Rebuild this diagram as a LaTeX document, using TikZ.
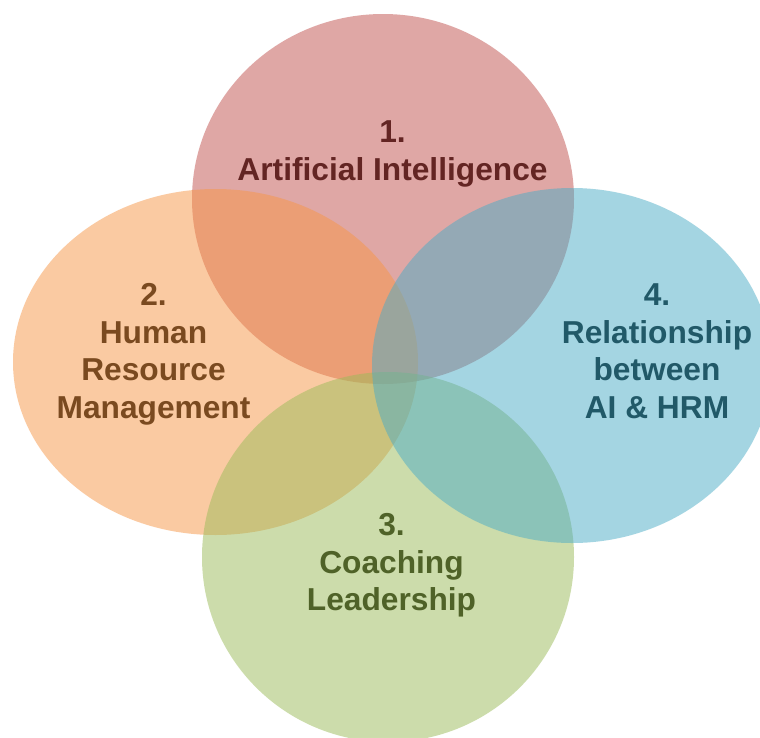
\documentclass[tikz,border=0pt]{standalone}
\usepackage{fontspec}
\setmainfont{Liberation Sans}
\definecolor{cRed}{HTML}{C0504D}
\definecolor{cOrange}{HTML}{F79646}
\definecolor{cGreen}{HTML}{9BBB59}
\definecolor{cBlue}{HTML}{4BACC6}
\definecolor{tRed}{HTML}{632523}
\definecolor{tOrange}{HTML}{7A4A20}
\definecolor{tGreen}{HTML}{4F6228}
\definecolor{tBlue}{HTML}{215968}
\tikzset{
  blob/.style={fill opacity=0.5, draw=none},
  lbl/.style={anchor=north, inner sep=0pt, align=center,
    font=\fontsize{31.7}{37.5}\selectfont\bfseries}
}
\begin{document}
\begin{tikzpicture}[x=1pt,y=-1pt]
\useasboundingbox (0,0) rectangle (760,737);
\fill[white] (0,0) rectangle (760,737);
\clip (0,0) rectangle (760,737);
\fill[blob, cRed] (383,199) ellipse [x radius=191, y radius=185];
\fill[blob, cOrange] (215.5,362) ellipse [x radius=202.5, y radius=173];
\fill[blob, cGreen] (388,557) ellipse [x radius=186, y radius=185];
\fill[blob, cBlue] (572,365.5) ellipse [x radius=200, y radius=177.5];
\node[lbl, text=tRed] (ai) at (392.5,120.5) {1.\\Artificial Intelligence};
\node[lbl, text=tOrange] (hrm) at (153.5,283.5) {2.\\Human\\Resource\\Management};
\node[lbl, text=tGreen] (cl) at (391.5,513.5) {3.\\Coaching\\Leadership};
\node[lbl, text=tBlue] (rel) at (657,283.5) {4.\\Relationship\\between\\AI \& HRM};
\end{tikzpicture}
\end{document}
